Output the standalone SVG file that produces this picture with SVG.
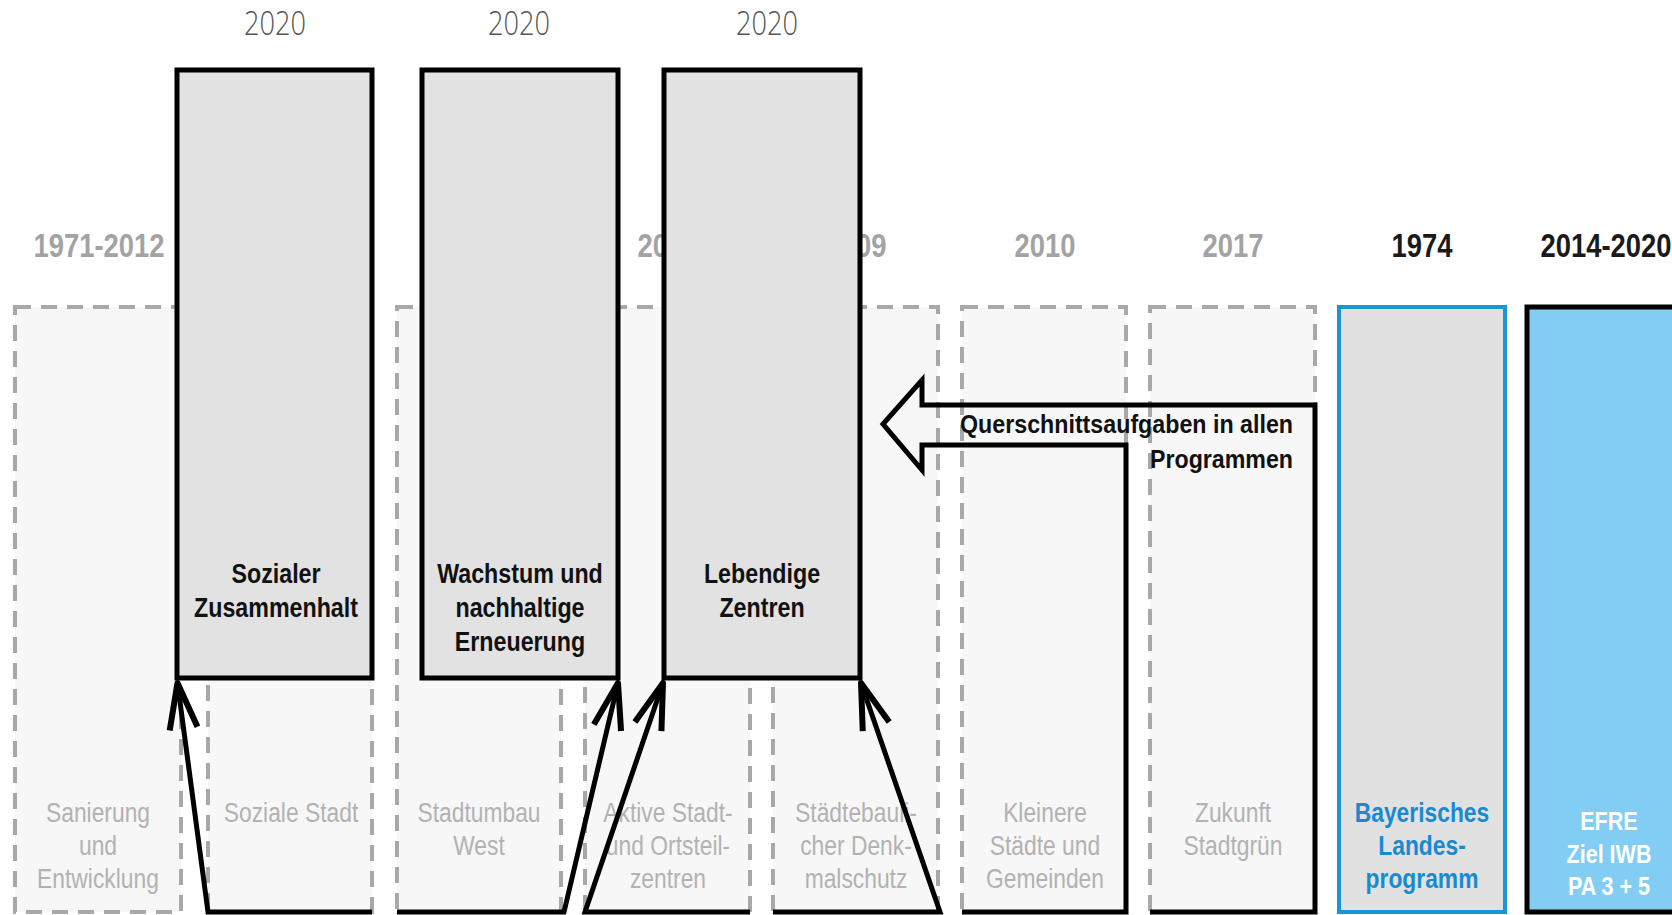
<svg xmlns="http://www.w3.org/2000/svg" width="1672" height="915" viewBox="0 0 1672 915">
  <defs>
    <style>
      .prog { fill: #f7f7f7; stroke: #a8a8a8; stroke-width: 4; stroke-dasharray: 16 10; }
      .main { fill: #e2e2e2; stroke: #000; stroke-width: 5; }
      .yr { font-family: "Liberation Sans", Arial, sans-serif; font-weight: bold; font-size: 33px; text-anchor: middle; fill: #a3a3a3; }
      .yr.dark { fill: #1a1a1a; }
      .top { font-family: "Open Sans", "Liberation Sans", sans-serif; font-weight: 300; font-size: 33px; text-anchor: middle; fill: #555; }
      .lbl { font-family: "Liberation Sans", Arial, sans-serif; font-size: 27.5px; text-anchor: middle; fill: #b2b2b2; }
      .lbl.blue { fill: #1a8ad0; font-weight: bold; }
      .lbl.white { fill: #ffffff; font-weight: bold; font-size: 26px; }
      .head { font-family: "Liberation Sans", Arial, sans-serif; font-weight: bold; font-size: 28px; text-anchor: middle; fill: #111; }
      .conn { fill: none; stroke: #000; stroke-width: 5; stroke-linejoin: miter; }
      .note { font-family: "Liberation Sans", Arial, sans-serif; font-weight: bold; font-size: 26px; fill: #111; }
    </style>
    <marker id="open-arrow" markerUnits="userSpaceOnUse" markerWidth="60" markerHeight="40" viewBox="-50 -20 60 40" refX="0" refY="0" orient="auto" overflow="visible">
      <path d="M-46,-14 L0,0 L-46,14" fill="none" stroke="#000" stroke-width="6" stroke-linejoin="round" stroke-linecap="butt"/>
    </marker>
  </defs>

  <rect width="1672" height="915" fill="#ffffff"/>

  <!-- funding programmes (dashed columns); condensed type = scale(.83 1) around the column centre -->
  <g id="prog-sanierung">
    <rect class="prog" x="15" y="307" width="166" height="605"/>
    <text class="yr" x="0" y="257" transform="translate(99 0) scale(.83 1)">1971-2012</text>
    <text class="lbl" x="0" y="822" transform="translate(98 0) scale(.83 1)">Sanierung</text>
    <text class="lbl" x="0" y="855" transform="translate(98 0) scale(.83 1)">und</text>
    <text class="lbl" x="0" y="888" transform="translate(98 0) scale(.83 1)">Entwicklung</text>
  </g>
  <g id="prog-soziale-stadt">
    <rect class="prog" x="208" y="307" width="164" height="605"/>
    <text class="lbl" x="0" y="822" transform="translate(291 0) scale(.83 1)">Soziale Stadt</text>
  </g>
  <g id="prog-stadtumbau">
    <rect class="prog" x="397" y="307" width="164" height="605"/>
    <text class="lbl" x="0" y="822" transform="translate(479 0) scale(.83 1)">Stadtumbau</text>
    <text class="lbl" x="0" y="855" transform="translate(479 0) scale(.83 1)">West</text>
  </g>
  <g id="prog-aktive-zentren">
    <rect class="prog" x="585" y="307" width="165" height="605"/>
    <text class="yr" x="0" y="257" transform="translate(668 0) scale(.83 1)">2008</text>
    <text class="lbl" x="0" y="822" transform="translate(668 0) scale(.83 1)">Aktive Stadt-</text>
    <text class="lbl" x="0" y="855" transform="translate(668 0) scale(.83 1)">und Ortsteil-</text>
    <text class="lbl" x="0" y="888" transform="translate(668 0) scale(.83 1)">zentren</text>
  </g>
  <g id="prog-denkmalschutz">
    <rect class="prog" x="773" y="307" width="165" height="605"/>
    <text class="yr" x="0" y="257" transform="translate(856 0) scale(.83 1)">2009</text>
    <text class="lbl" x="0" y="822" transform="translate(856 0) scale(.83 1)">Städtebauli-</text>
    <text class="lbl" x="0" y="855" transform="translate(856 0) scale(.83 1)">cher Denk-</text>
    <text class="lbl" x="0" y="888" transform="translate(856 0) scale(.83 1)">malschutz</text>
  </g>
  <g id="prog-kleinere-staedte">
    <rect class="prog" x="962" y="307" width="164" height="605"/>
    <text class="yr" x="0" y="257" transform="translate(1045 0) scale(.83 1)">2010</text>
    <text class="lbl" x="0" y="822" transform="translate(1045 0) scale(.83 1)">Kleinere</text>
    <text class="lbl" x="0" y="855" transform="translate(1045 0) scale(.83 1)">Städte und</text>
    <text class="lbl" x="0" y="888" transform="translate(1045 0) scale(.83 1)">Gemeinden</text>
  </g>
  <g id="prog-stadtgruen">
    <rect class="prog" x="1150" y="307" width="165" height="605"/>
    <text class="yr" x="0" y="257" transform="translate(1233 0) scale(.83 1)">2017</text>
    <text class="lbl" x="0" y="822" transform="translate(1233 0) scale(.83 1)">Zukunft</text>
    <text class="lbl" x="0" y="855" transform="translate(1233 0) scale(.83 1)">Stadtgrün</text>
  </g>
  <g id="prog-landesprogramm">
    <rect x="1339" y="307" width="166" height="605" fill="#e1e1e1" stroke="#1b95d6" stroke-width="4"/>
    <text class="yr dark" x="0" y="257" transform="translate(1422 0) scale(.83 1)">1974</text>
    <text class="lbl blue" x="0" y="822" transform="translate(1422 0) scale(.83 1)">Bayerisches</text>
    <text class="lbl blue" x="0" y="855" transform="translate(1422 0) scale(.83 1)">Landes-</text>
    <text class="lbl blue" x="0" y="888" transform="translate(1422 0) scale(.83 1)">programm</text>
  </g>
  <g id="prog-efre">
    <rect x="1527" y="307" width="200" height="605" fill="#82cdf3" stroke="#000" stroke-width="5"/>
    <text class="yr dark" x="0" y="257" transform="translate(1606 0) scale(.83 1)">2014-2020</text>
    <text class="lbl white" x="0" y="830" transform="translate(1609 0) scale(.83 1)">EFRE</text>
    <text class="lbl white" x="0" y="863" transform="translate(1609 0) scale(.83 1)">Ziel IWB</text>
    <text class="lbl white" x="0" y="895" transform="translate(1609 0) scale(.83 1)">PA 3 + 5</text>
  </g>

  <!-- new programmes from 2020 -->
  <g id="neu-zusammenhalt">
    <rect class="main" x="177" y="70" width="195" height="608"/>
    <text class="top" x="275" y="35" textLength="62" lengthAdjust="spacingAndGlyphs">2020</text>
    <text class="head" x="0" y="583" transform="translate(276 0) scale(.83 1)">Sozialer</text>
    <text class="head" x="0" y="617" transform="translate(276 0) scale(.83 1)">Zusammenhalt</text>
  </g>
  <g id="neu-wachstum">
    <rect class="main" x="422" y="70" width="196" height="608"/>
    <text class="top" x="519" y="35" textLength="62" lengthAdjust="spacingAndGlyphs">2020</text>
    <text class="head" x="0" y="583" transform="translate(520 0) scale(.83 1)">Wachstum und</text>
    <text class="head" x="0" y="617" transform="translate(520 0) scale(.83 1)">nachhaltige</text>
    <text class="head" x="0" y="651" transform="translate(520 0) scale(.83 1)">Erneuerung</text>
  </g>
  <g id="neu-zentren">
    <rect class="main" x="664" y="70" width="196" height="608"/>
    <text class="top" x="767" y="35" textLength="62" lengthAdjust="spacingAndGlyphs">2020</text>
    <text class="head" x="0" y="583" transform="translate(762 0) scale(.83 1)">Lebendige</text>
    <text class="head" x="0" y="617" transform="translate(762 0) scale(.83 1)">Zentren</text>
  </g>

  <!-- connectors -->
  <g id="connectors">
    <path class="conn" d="M372,912 H208 L177.5,683" marker-end="url(#open-arrow)"/>
    <path class="conn" d="M397,912 H564 L618,683" marker-end="url(#open-arrow)"/>
    <path class="conn" d="M750,912 H585 L663,683" marker-end="url(#open-arrow)"/>
    <path class="conn" d="M773,912 H940 L861,683" marker-end="url(#open-arrow)"/>
    <path class="conn" d="M962,912 H1126 V445 H922 V470 L883,424 L922,380 V405 H1315 V912 H1150"/>
    <text class="note" x="960" y="433" textLength="333" lengthAdjust="spacingAndGlyphs">Querschnittsaufgaben in allen</text>
    <text class="note" x="1150" y="468" textLength="143" lengthAdjust="spacingAndGlyphs">Programmen</text>
  </g>
</svg>
